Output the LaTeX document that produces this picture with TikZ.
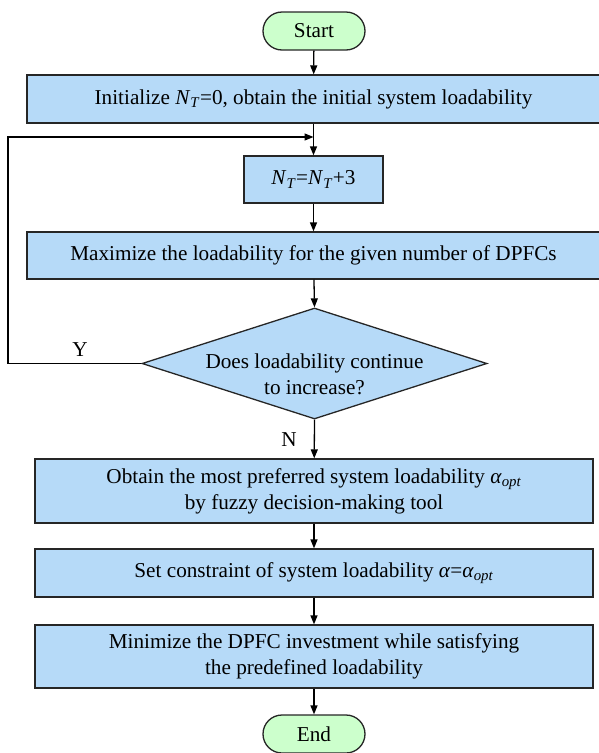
\documentclass[tikz,border=0pt]{standalone}
\usepackage{fontspec}
\setmainfont{Liberation Serif}
\usetikzlibrary{arrows.meta,shapes.geometric}
\definecolor{boxblue}{RGB}{182,218,248}
\definecolor{termgreen}{RGB}{204,255,204}
\newcommand{\NT}{\textit{N}\textsubscript{\textit{T}}}
\newcommand{\aopt}{\textit{α}\textsubscript{\textit{opt}}}
\begin{document}
\begin{tikzpicture}[x=1pt,y=-1pt,
  every node/.style={font=\fontsize{21.2}{26}\selectfont},
  procbox/.style={draw=black!85,line width=1.3pt,fill=boxblue,inner sep=0pt,align=center},
  termbox/.style={draw=black!85,line width=1.3pt,fill=termgreen,rounded corners=19pt,inner sep=0pt,minimum width=102pt,minimum height=38pt},
  flow/.style={line width=1.3pt,-{Triangle[length=9pt,width=7pt]}}]
\useasboundingbox (0,0) rectangle (599,753);
\node[termbox] (start) at (314,31) {Start};
\node[procbox,minimum width=573pt,minimum height=48pt] (init) at (313.5,99) {Initialize \NT=0, obtain the initial system loadability};
\node[procbox,minimum width=139pt,minimum height=47pt] (nt) at (313.5,179.5) {\NT=\NT+3};
\node[procbox,minimum width=573pt,minimum height=47pt] (maxl) at (313.5,255.5) {Maximize the loadability for the given number of DPFCs};
\node[diamond,draw=black!85,line width=1.3pt,fill=boxblue,inner sep=0pt,minimum width=345pt,minimum height=111pt] (dec) at (314.5,363.5) {};
\node[align=center,inner sep=0pt] (dectext) at (314.5,374) {Does loadability continue\\to increase?};
\node[procbox,minimum width=558pt,minimum height=64pt] (fuzzy) at (314,491) {Obtain the most preferred system loadability \aopt\\by fuzzy decision-making tool};
\node[procbox,minimum width=558pt,minimum height=48pt] (cons) at (314,573) {Set constraint of system loadability \textit{α}=\aopt};
\node[procbox,minimum width=558pt,minimum height=63pt] (mini) at (314,656.5) {Minimize the DPFC investment while satisfying\\the predefined loadability};
\node[termbox] (end) at (314,734) {End};
\node[inner sep=0pt] (ylab) at (80,350) {Y};
\node[inner sep=0pt] (nlab) at (289,440) {N};
\coordinate (lpa) at (8,363.5);
\coordinate (lpb) at (8,137);
\coordinate (lpj) at (313.5,137);
\draw[flow] (start) -- (init);
\draw[flow] (init) -- (nt);
\draw[flow] (nt) -- (maxl);
\draw[flow] (maxl) -- (dec.north);
\draw[flow] (dec.south) -- (fuzzy);
\draw[flow] (fuzzy) -- (cons);
\draw[flow] (cons) -- (mini);
\draw[flow] (mini) -- (end);
\draw[flow] (dec.west) -- (lpa) -- (lpb) -- (lpj);
\end{tikzpicture}
\end{document}
